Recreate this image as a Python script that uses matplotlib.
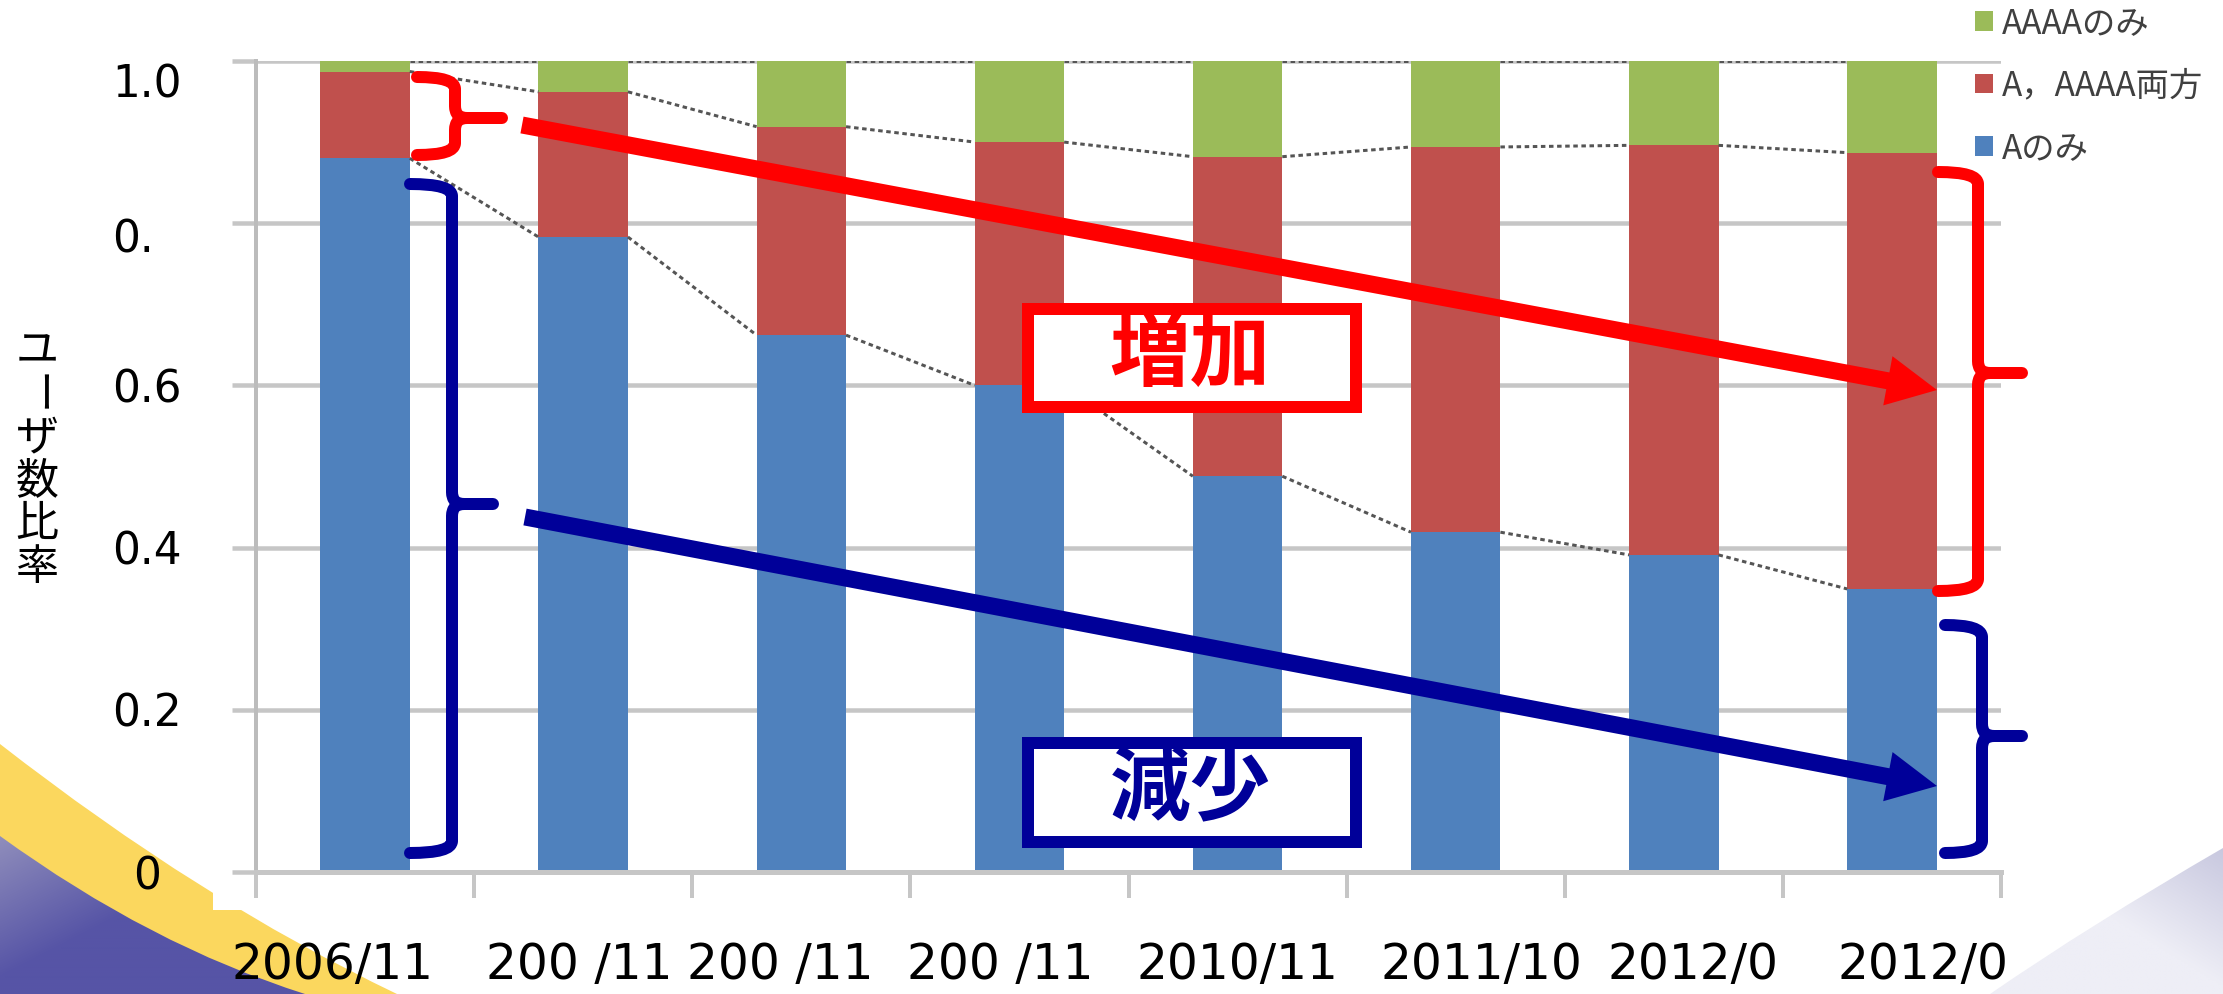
import matplotlib
matplotlib.use("Agg")
import numpy as np
from matplotlib import pyplot as plt
from matplotlib.patches import PathPatch, Rectangle, FancyArrow
from matplotlib.path import Path
from matplotlib.transforms import ScaledTranslation

# ---- data ----
periods = ["2006/11", "200 /11", "200 /11", "200 /11", "2010/11", "2011/10", "2012/0", "2012/0"]
a_only = [0.880, 0.783, 0.662, 0.600, 0.488, 0.419, 0.391, 0.349]
both = [0.107, 0.179, 0.257, 0.300, 0.394, 0.475, 0.505, 0.538]
aaaa_only = [0.013, 0.038, 0.081, 0.100, 0.118, 0.106, 0.104, 0.113]
series_names = ["Aのみ", "A，AAAA両方", "AAAAのみ"]
y_ticks = [0, 0.2, 0.4, 0.6, 0.8, 1.0]
y_tick_labels = ["0", "0.2", "0.4", "0.6", "0.", "1.0"]
y_label = "ユーザ数比率"
up_text = "増加"
down_text = "減少"

W, H, DPI = 2223, 994, 100
PT = 72 / DPI  # pixels -> points
CJK = ["Noto Sans CJK JP", "DejaVu Sans"]

BLUE, RED, GREEN = "#4F81BD", "#C0504D", "#9BBB59"
ANN_RED, ANN_BLUE = "#FF0000", "#000099"
GRID = "#c6c6c6"

# the labels on the slide were retyped by hand, so they sit a little off the ticks
xlabel_shift_px = [-33, -4, -21, -19, 0, 26, 19, 31]
ylabel_shift_px = {"0": (21, 0), "0.": (0, -12), "1.0": (0, -19)}

plt.rcParams["font.family"] = ["DejaVu Sans"]

fig = plt.figure(figsize=(W / DPI, H / DPI), dpi=DPI)
fig.patch.set_facecolor("white")


def px_shift(dx, dy):
    return ScaledTranslation(dx / DPI, dy / DPI, fig.dpi_scale_trans)


# ---- slide background (pixel coordinates) ----
bg = fig.add_axes([0, 0, 1, 1], zorder=0)
bg.axis("off")

yellow = Path([(0, 744), (200, 900), (397, 994), (0, 994), (0, 744)],
              [Path.MOVETO, Path.CURVE3, Path.CURVE3, Path.LINETO, Path.CLOSEPOLY])
bg.add_patch(PathPatch(yellow, facecolor="#FBD75E", edgecolor="none", zorder=1))

purple = Path([(0, 836), (150, 945), (305, 994), (0, 994), (0, 836)],
              [Path.MOVETO, Path.CURVE3, Path.CURVE3, Path.LINETO, Path.CLOSEPOLY])
pp = PathPatch(purple, facecolor="none", edgecolor="none", zorder=2)
bg.add_patch(pp)
gx, gy = np.meshgrid(np.linspace(0, 320, 160), np.linspace(820, 994, 90))
s = np.clip(gx / 305 + (994 - gy) / 158, 0, 1)[..., None]
edge_c = np.array([86, 84, 166]) / 255
corner_c = np.array([150, 148, 190]) / 255
img = corner_c * (1 - s) + edge_c * s
im = bg.imshow(img, extent=(0, 320, 994, 820), origin="lower",
               interpolation="bilinear", zorder=2)
im.set_clip_path(pp)

right = Path([(2223, 848), (2090, 925), (1990, 994), (2223, 994), (2223, 848)],
             [Path.MOVETO, Path.CURVE3, Path.CURVE3, Path.LINETO, Path.CLOSEPOLY])
rp = PathPatch(right, facecolor="none", edgecolor="none", zorder=2)
bg.add_patch(rp)
rx, ry = np.meshgrid(np.linspace(1980, 2223, 120), np.linspace(840, 994, 80))
t = np.clip((2223 - rx) / 233 + (994 - ry) / 146, 0, 1)[..., None]
img2 = np.array([198, 198, 222]) / 255 * (1 - t) + np.array([238, 238, 246]) / 255 * t
im2 = bg.imshow(img2, extent=(1980, 2223, 994, 840), origin="lower",
                interpolation="bilinear", zorder=2)
im2.set_clip_path(rp)

# white chart picture pasted on the slide
bg.add_patch(Rectangle((213, 0), 1802, 910, facecolor="white", edgecolor="none", zorder=3))
bg.set_xlim(0, W)
bg.set_ylim(H, 0)

# ---- chart ----
ax = fig.add_axes([256 / W, 1 - 872 / H, (2001 - 256) / W, (872 - 61) / H], zorder=1)
ax.patch.set_alpha(0)
x = np.arange(len(periods))
bw = 0.41
a = np.array(a_only)
b = np.array(both)
g = np.array(aaaa_only)
bars_a = ax.bar(x, a, bw, color=BLUE, label=series_names[0], zorder=2)
bars_b = ax.bar(x, b, bw, bottom=a, color=RED, label=series_names[1], zorder=2)
bars_g = ax.bar(x, g, bw, bottom=a + b, color=GREEN, label=series_names[2], zorder=2)

# series lines between bars
for tops in (a, a + b, a + b + g):
    for i in range(len(x) - 1):
        ax.plot([x[i] + bw / 2, x[i + 1] - bw / 2], [tops[i], tops[i + 1]],
                color="#555555", lw=3 * PT, ls=(0, (1.5, 1.2)), zorder=3)

ax.set_xlim(-0.5, len(periods) - 0.5)
ax.set_ylim(0, 1)
ax.set_yticks(y_ticks)
ax.set_yticklabels(y_tick_labels, fontsize=31.5, ha="left")
ax.yaxis.grid(True, color=GRID, lw=4.5 * PT)
ax.set_axisbelow(True)
ax.tick_params(axis="y", length=24 * PT, width=4.5 * PT, color=GRID, pad=120 * PT)

ax.set_xticks(x)
ax.set_xticklabels(periods, fontsize=35)
ax.set_xticks(np.arange(-0.5, len(periods), 1), minor=True)
ax.tick_params(axis="x", which="major", length=0, pad=93 * PT)
ax.tick_params(axis="x", which="minor", length=26 * PT, width=4 * PT, color=GRID)
for lbl, dx in zip(ax.get_xticklabels(), xlabel_shift_px):
    lbl.set_va("center")
    lbl.set_transform(lbl.get_transform() + px_shift(dx, 0))
for lbl in ax.get_yticklabels():
    if lbl.get_text() in ylabel_shift_px:
        lbl.set_transform(lbl.get_transform() + px_shift(*ylabel_shift_px[lbl.get_text()]))

for side in ("top", "right"):
    ax.spines[side].set_visible(False)
ax.spines["left"].set_color("#bcbcbc")
ax.spines["left"].set_linewidth(4 * PT)
ax.spines["bottom"].set_color(GRID)
ax.spines["bottom"].set_linewidth(5 * PT)

leg = ax.legend([bars_g, bars_b, bars_a], series_names[::-1], loc="upper left",
                bbox_to_anchor=(1975 / W, 1 - 6 / H), bbox_transform=fig.transFigure,
                frameon=False, borderpad=0, borderaxespad=0,
                handlelength=0.54, handleheight=0.54, handletextpad=0.28,
                labelspacing=0.82, prop={"family": CJK, "size": 24}, labelcolor="#404040")

# ---- annotations (pixel coordinates) ----
ov = fig.add_axes([0, 0, 1, 1], zorder=3)
ov.set_xlim(0, W)
ov.set_ylim(H, 0)
ov.axis("off")
ov.patch.set_alpha(0)

# vertical y label
for i, ch in enumerate(y_label):
    ov.text(37, 330 + 43.3 * (i + 0.5), ch, fontsize=31, family=CJK,
            ha="center", va="center", rotation=-90 if ch == "ー" else 0)


def brace(x_end, x_spine, x_tip, y_top, y_tip, y_bot, color, r=12):
    verts = [(x_end, y_top), (x_spine, y_top), (x_spine, y_top + r),
             (x_spine, y_tip - r), (x_spine, y_tip), (x_spine + r, y_tip),
             (x_tip, y_tip),
             (x_spine + r, y_tip), (x_spine, y_tip), (x_spine, y_tip + r),
             (x_spine, y_bot - r), (x_spine, y_bot), (x_end, y_bot)]
    codes = [Path.MOVETO, Path.CURVE3, Path.CURVE3,
             Path.LINETO, Path.CURVE3, Path.CURVE3,
             Path.LINETO,
             Path.MOVETO, Path.CURVE3, Path.CURVE3,
             Path.LINETO, Path.CURVE3, Path.CURVE3]
    ov.add_patch(PathPatch(Path(verts, codes), fill=False, edgecolor=color,
                           lw=12 * PT, capstyle="round", joinstyle="round"))


brace(417, 455, 502, 77, 118, 155, ANN_RED)
brace(410, 452, 493, 184, 504, 853, ANN_BLUE)
brace(1938, 1978, 2022, 172, 373, 591, ANN_RED)
brace(1945, 1982, 2022, 625, 736, 853, ANN_BLUE)

ov.add_patch(FancyArrow(522, 125, 1937 - 522, 390 - 125, width=17, head_width=50,
                        head_length=50, length_includes_head=True, color=ANN_RED, lw=0))
ov.add_patch(FancyArrow(525, 517, 1937 - 525, 786 - 517, width=17, head_width=50,
                        head_length=50, length_includes_head=True, color=ANN_BLUE, lw=0))

ov.add_patch(Rectangle((1028, 309), 328, 98, facecolor="white", edgecolor=ANN_RED,
                       lw=12 * PT, joinstyle="miter"))
ov.text(1190, 356, up_text, fontsize=58, fontweight="bold", family=CJK,
        color=ANN_RED, ha="center", va="center")
ov.add_patch(Rectangle((1028, 743), 328, 99, facecolor="white", edgecolor=ANN_BLUE,
                       lw=12 * PT, joinstyle="miter"))
ov.text(1190, 791, down_text, fontsize=58, fontweight="bold", family=CJK,
        color=ANN_BLUE, ha="center", va="center")

fig.savefig("out.png", dpi=DPI)
